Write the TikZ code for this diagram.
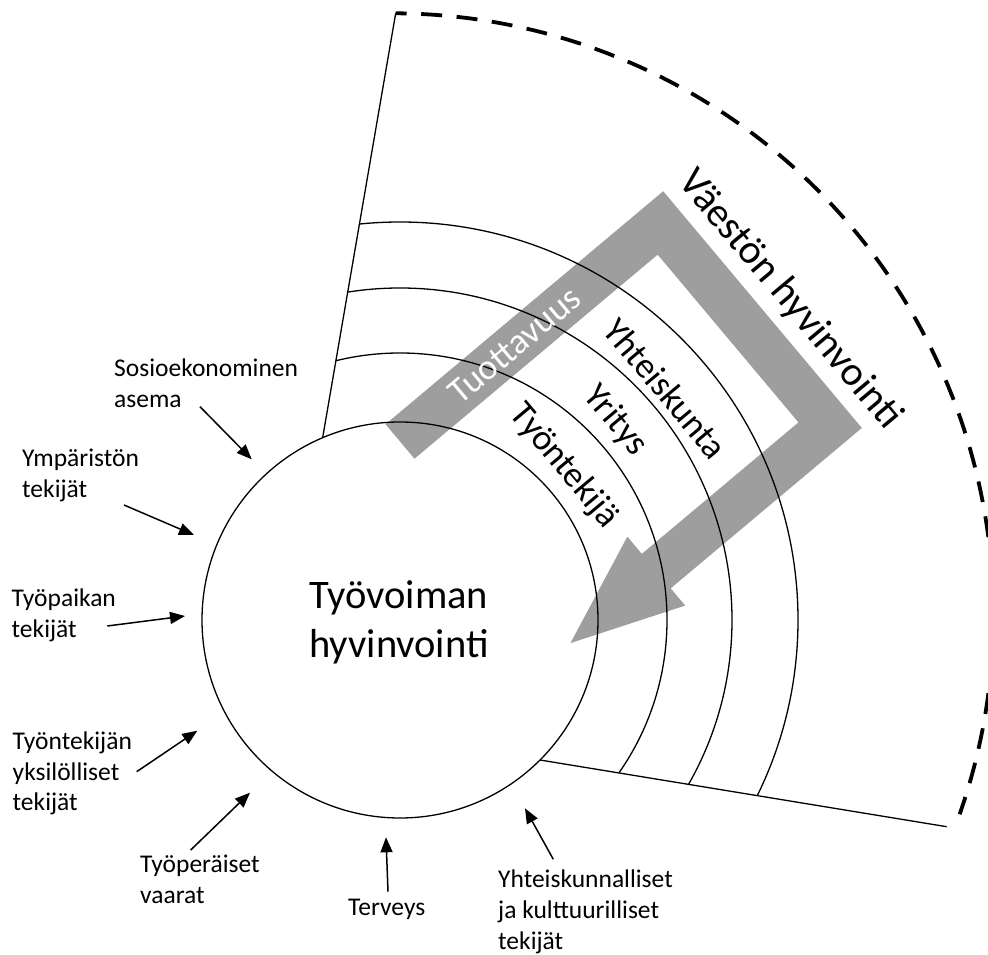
\documentclass[tikz,border=0pt]{standalone}
\usepackage{fontspec}
\setmainfont{Carlito}
\usetikzlibrary{arrows.meta}
\definecolor{bandgray}{RGB}{158,158,158}
\begin{document}
\begin{tikzpicture}[x=1pt,y=1pt,
  thinline/.style={line width=1.3pt, draw=black},
  rim/.style={line width=3.8pt, draw=black, dash pattern=on 21pt off 14.5pt, dash phase=10pt},
  feed/.style={line width=1.5pt, -{Triangle[length=15pt,width=12pt]}},
  factor/.style={inner sep=0pt, anchor=base west, font=\fontsize{25.5}{31}\selectfont},
  ring/.style={inner sep=0pt, font=\fontsize{36}{43}\selectfont, rotate=-50},
]
\useasboundingbox (0,0) rectangle (988,954);

% bent grey arrow (drawn first, lines go over it)
\begin{scope}[shift={(400,512.5)}, rotate=40]
  \fill[bandgray] (0,22.5) -- (362.5,22.5) -- (362.5,-286.5) -- (113,-286.5)
    -- (113,-309) -- (1,-264) -- (113,-219) -- (113,-241.5)
    -- (317.5,-241.5) -- (317.5,-22.5) -- (0,-22.5) -- cycle;
\end{scope}

% central circle
\node[circle, thinline, minimum size=396pt, inner sep=0pt, outer sep=0pt] (core) at (400,334) {};

% sector borders
\coordinate (topend) at (395.7,940.7);
\coordinate (botend) at (946.7,127.3);
\draw[thinline] (core.113) -- (topend);
\draw[thinline] (core.-45) -- (botend);

% rings between the borders
\begin{scope}
  \clip (core.113) -- (topend) -- (988,954) -- (988,0) -- (botend) -- (core.-45) -- cycle;
  \draw[thinline] (core.center) circle[radius=267] circle[radius=332] circle[radius=398];
\end{scope}

% dashed outer rim
\draw[rim] (topend) arc[start angle=89.6, end angle=-19.3, radius=602];

% texts
\node[inner sep=0pt, anchor=base, font=\fontsize{40.5}{49}\selectfont] (coretext) at (399,345)
  {\begin{tabular}[t]{@{}c@{}}Työvoiman\\hyvinvointi\end{tabular}};
\node[inner sep=0pt, font=\fontsize{41}{49}\selectfont, rotate=-50] (pop) at (790,654) {Väestön hyvinvointi};
\node[inner sep=0pt, font=\fontsize{36}{43}\selectfont, rotate=40, text=white] (prod) at (514.9,608.9) {Tuottavuus};
\node[ring] (society) at (665.8,565.7) {Yhteiskunta};
\node[ring] (company) at (615.3,533.2) {Yritys};
\node[ring] (worker) at (564,488) {Työntekijä};

% factor labels
\node[factor] (socio) at (114,577) {\begin{tabular}[t]{@{}l@{}}Sosioekonominen\\asema\end{tabular}};
\node[factor] (envir) at (22,487) {\begin{tabular}[t]{@{}l@{}}Ympäristön\\tekijät\end{tabular}};
\node[factor] (workpl) at (11.5,347) {\begin{tabular}[t]{@{}l@{}}Työpaikan\\tekijät\end{tabular}};
\node[factor] (indiv) at (12.5,205) {\begin{tabular}[t]{@{}l@{}}Työntekijän\\yksilölliset\\tekijät\end{tabular}};
\node[factor] (hazard) at (140,82) {\begin{tabular}[t]{@{}l@{}}Työperäiset\\vaarat\end{tabular}};
\node[factor] (health) at (348,39) {Terveys};
\node[factor] (cultur) at (498,67) {\begin{tabular}[t]{@{}l@{}}Yhteiskunnalliset\\ja kulttuurilliset\\tekijät\end{tabular}};

% arrows towards the circle
\coordinate (socioT) at (200,547.3);  \coordinate (socioH) at (251.7,494.7);
\coordinate (envirT) at (124,449);    \coordinate (envirH) at (194,419);
\coordinate (workplT) at (107.3,328); \coordinate (workplH) at (185,338);
\coordinate (indivT) at (136.7,182.3); \coordinate (indivH) at (197.3,223.3);
\coordinate (hazardT) at (190.7,104); \coordinate (hazardH) at (250,161.3);
\coordinate (healthT) at (388,62.3);  \coordinate (healthH) at (386,116.7);
\coordinate (culturT) at (553.3,94.7); \coordinate (culturH) at (525,145.7);
\draw[feed] (socioT) -- (socioH);
\draw[feed] (envirT) -- (envirH);
\draw[feed] (workplT) -- (workplH);
\draw[feed] (indivT) -- (indivH);
\draw[feed] (hazardT) -- (hazardH);
\draw[feed] (healthT) -- (healthH);
\draw[feed] (culturT) -- (culturH);
\end{tikzpicture}
\end{document}
